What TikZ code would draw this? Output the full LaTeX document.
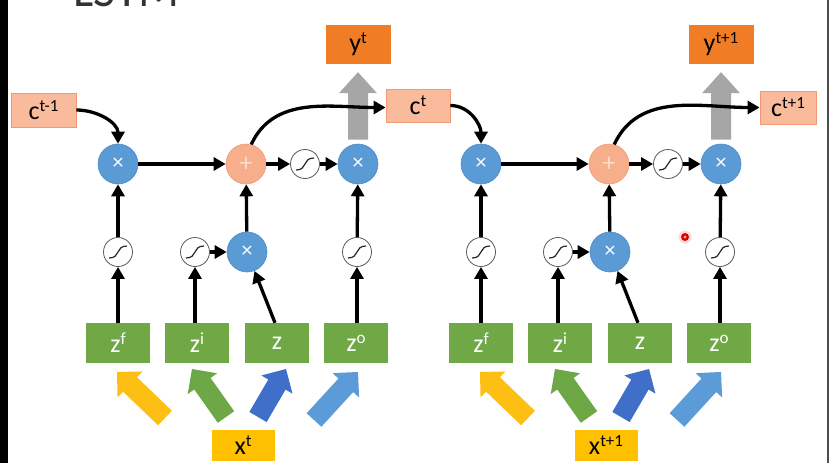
\documentclass[tikz,border=0pt]{standalone}
\usepackage{fontspec}
\setmainfont{Carlito}
\usetikzlibrary{calc,arrows.meta}
\definecolor{cfill}{HTML}{F9BB9B}
\definecolor{cedge}{HTML}{F19A74}
\definecolor{yfill}{HTML}{F07C26}
\definecolor{zgreen}{HTML}{6FA845}
\definecolor{xgold}{HTML}{FFC000}
\definecolor{mblue}{HTML}{5B9BD5}
\definecolor{mblueedge}{HTML}{4F8DC9}
\definecolor{ppeach}{HTML}{F7AE8A}
\definecolor{ppeachedge}{HTML}{F09B74}
\definecolor{plustxt}{HTML}{FCDCCB}
\definecolor{arrgray}{HTML}{A6A6A6}
\definecolor{arryel}{HTML}{FDBF14}
\definecolor{arrgrn}{HTML}{6EA746}
\definecolor{arrdblue}{HTML}{3F6FC9}
\definecolor{arrlblue}{HTML}{5B9BD8}
\newcommand\lbl[2]{#1\raisebox{8pt}{\fontsize{17}{17}\selectfont #2}}
\newcommand\blkarrow[6]{%
  \coordinate (ba-h) at ($(#3)!#6!(#2)$);
  \fill[#1] ($(#2)!#4!90:(#3)$) -- ($(ba-h)!#4!90:(#3)$) -- ($(ba-h)!#5!90:(#3)$)
    -- (#3) -- ($(ba-h)!#5!-90:(#3)$) -- ($(ba-h)!#4!-90:(#3)$) -- ($(#2)!#4!-90:(#3)$) -- cycle;}
\begin{document}
\begin{tikzpicture}[x=1pt,y=-1pt,
  every node/.style={inner sep=0pt, font=\fontsize{26}{26}\selectfont},
  cbox/.style={draw=cedge, line width=0.8pt, fill=cfill, minimum height=33pt, minimum width=64pt},
  ybox/.style={fill=yfill, minimum width=65pt, minimum height=39pt},
  zbox/.style={fill=zgreen, minimum width=64pt, minimum height=40pt, text=white},
  xbox/.style={fill=xgold, minimum width=63pt, minimum height=31pt},
  mult/.style={circle, fill=mblue, draw=mblueedge, line width=0.6pt, minimum size=40pt, text=white, font=\fontsize{22}{22}\selectfont},
  plusn/.style={circle, fill=ppeach, draw=ppeachedge, line width=0.6pt, minimum size=40pt, text=plustxt, font=\fontsize{26}{26}\selectfont},
  sig/.style={circle, draw=black!65, line width=0.8pt, fill=white, minimum size=29pt,
    path picture={\draw[line width=1.2pt, black!85]
      ([shift={(-9pt,-6pt)}]path picture bounding box.center)
      .. controls ([shift={(3pt,-6pt)}]path picture bounding box.center)
      and ([shift={(-3pt,6pt)}]path picture bounding box.center)
      .. ([shift={(9pt,6pt)}]path picture bounding box.center);}},
  conn/.style={line width=3.3pt, -{Triangle[length=12pt,width=13pt]}},
]
\useasboundingbox (0,0) rectangle (829,463);
\fill[white] (0,0) rectangle (829,463);
\fill[black] (0,0) rectangle (8,463);
\fill[black!70] (827,0) rectangle (829,463);
\node[anchor=base west, font=\fontsize{48}{48}\selectfont, text=black!80] (title) at (73,6) {LSTM};

% cell memory boxes
\node[cbox, minimum width=65pt, minimum height=34pt] (cm1) at (43.5,110) {\lbl{c}{t-1}};
\node[cbox] (ct) at (418,105.5) {\lbl{c}{t}};
\node[cbox, minimum width=56pt] (cp1) at (788,107.5) {\lbl{c}{t+1}};

\foreach \k/\dx/\sup in {1/0/t, 2/363/t+1} {
  \begin{scope}[xshift=\dx pt]
    \node[ybox] (y\k) at (358,44.5) {\lbl{y}{\sup}};
    \node[mult] (f\k) at (118,164) {×};
    \node[plusn] (p\k) at (246,164) {+};
    \node[sig] (sc\k) at (305,164) {};
    \node[mult] (o\k) at (358,164) {×};
    \node[sig] (sf\k) at (118,252) {};
    \node[sig] (si\k) at (195,252) {};
    \node[mult] (mi\k) at (247,252) {×};
    \node[sig] (so\k) at (357,252) {};
    \node[zbox] (zf\k) at (118,343) {\lbl{z}{f}};
    \node[zbox] (zi\k) at (197,343) {\lbl{z}{i}};
    \node[zbox] (zz\k) at (277,343) {z};
    \node[zbox] (zo\k) at (356,343) {\lbl{z}{o}};
    \node[xbox] (x\k) at (243,445.5) {\lbl{x}{\sup}};
    % gray output arrow
    \coordinate (ga\k) at ([yshift=4pt]o\k.north);
    \coordinate (gb\k) at ([yshift=-8pt]y\k.south);
    \blkarrow{arrgray}{ga\k}{gb\k}{10pt}{19pt}{21pt}
    % input block arrows
    \coordinate (ya\k) at (165,418); \coordinate (yb\k) at (117,372);
    \coordinate (ga2\k) at (226,417); \coordinate (gb2\k) at (192,369);
    \coordinate (ba\k) at (258,417); \coordinate (bb\k) at (286,369);
    \coordinate (la\k) at (314,420); \coordinate (lb\k) at (358,372);
    \blkarrow{arryel}{ya\k}{yb\k}{10pt}{18pt}{18pt}
    \blkarrow{arrgrn}{ga2\k}{gb2\k}{10pt}{18pt}{18pt}
    \blkarrow{arrdblue}{ba\k}{bb\k}{10pt}{18pt}{18pt}
    \blkarrow{arrlblue}{la\k}{lb\k}{10pt}{18pt}{18pt}
    % connectors
    \draw[conn] (f\k) -- (p\k);
    \draw[conn] (p\k) -- (sc\k);
    \draw[conn] (sc\k) -- (o\k);
    \draw[conn] (zf\k.north) -- (sf\k);
    \draw[conn] (sf\k) -- (f\k);
    \draw[conn] (zi\k.north -| si\k) -- (si\k);
    \draw[conn] (si\k) -- (mi\k);
    \draw[conn] ([xshift=-2pt]zz\k.north) -- (mi\k);
    \draw[conn] (mi\k) -- (p\k);
    \draw[conn] (zo\k.north -| so\k) -- (so\k);
    \draw[conn] (so\k) -- (o\k);
  \end{scope}
}
\draw[conn] (cm1.east) to[out=0,in=90] (f1.north);
\draw[conn] (ct.east) to[out=0,in=90] (f2.north);
\draw[conn] (p1.75) to[out=65,in=180] ([yshift=-2pt]ct.west);
\draw[conn] (p2.75) to[out=65,in=180] (cp1.west);

% laser pointer dot
\fill[red!30, opacity=0.5] (685,237) circle (6.5pt);
\fill[red!85!black] (685,237) circle (4pt);
\fill[red!35!white] (685,237) circle (1.6pt);
\end{tikzpicture}
\end{document}
